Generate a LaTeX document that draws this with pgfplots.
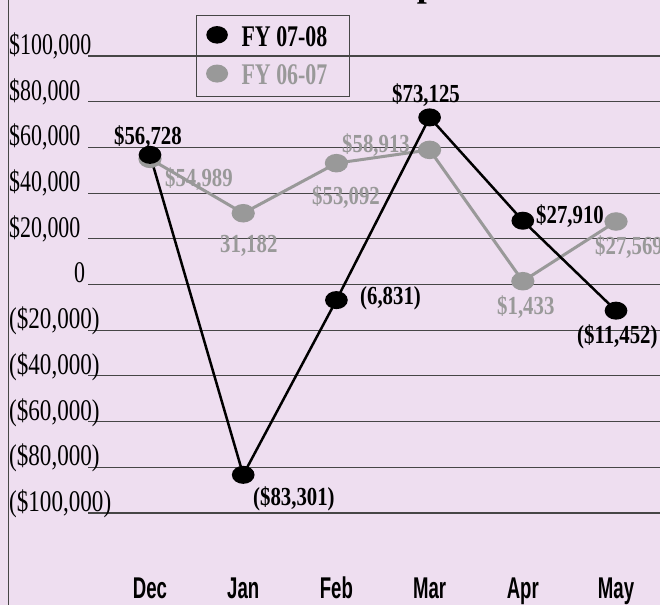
\documentclass[border=0pt]{standalone}
\usepackage{fontspec}
\setmainfont{Liberation Serif}
\newfontfamily\tickfont[FakeStretch=0.73]{Liberation Serif}
\newfontfamily\tickfontn[FakeStretch=0.77]{Liberation Serif}
\newfontfamily\valfont[FakeStretch=0.8]{Liberation Serif}
\newfontfamily\legfont[FakeStretch=0.73]{Liberation Serif}
\newfontfamily\xfont[FakeStretch=0.62]{Liberation Sans}
\usepackage{pgfplots}
\pgfplotsset{compat=1.18}
\definecolor{bg}{RGB}{238,222,240}
\definecolor{sgray}{RGB}{153,153,153}
\definecolor{gridc}{RGB}{70,70,70}

\begin{document}
\begin{tikzpicture}[x=1bp,y=1bp]
\useasboundingbox (0,0) rectangle (660,605);
\clip (0,0) rectangle (660,605);
\fill[bg] (0,0) rectangle (660,605);
\draw[gridc, line width=1.5bp] (8.5,0) -- (8.5,605);
\node[anchor=base, font=\fontsize{36bp}{36bp}\selectfont\bfseries, inner sep=0] at (427,608.5) {p};
\begin{axis}[
  at={(88bp,92bp)}, anchor=south west,
  scale only axis, width=572bp, height=457bp,
  xmin=-0.6652, xmax=5.472, ymin=-100000, ymax=100000,
  axis line style={draw=none}, major tick length=0,
  scaled y ticks=false,
  ytick={-100000,-80000,-60000,-40000,-20000,0,20000,40000,60000,80000,100000},
  yticklabels={{\tickfontn(\$100,000)},{\tickfontn(\$80,000)},{\tickfontn(\$60,000)},{\tickfontn(\$40,000)},{\tickfontn(\$20,000)},{\makebox[76bp][r]{0}},{\$20,000},{\$40,000},{\$60,000},{\$80,000},{\$100,000}},
  yticklabel style={anchor=base west, xshift=-79bp, yshift=1.5bp, inner sep=0, font=\tickfont\fontsize{30bp}{30bp}\selectfont, text=black},
  ymajorgrids, grid style={gridc, line width=1.1bp},
  xtick={0,1,2,3,4,5}, xticklabels={Dec,Jan,Feb,Mar,Apr,May},
  xticklabel style={anchor=base, yshift=-85bp, inner sep=0, font=\xfont\bfseries\fontsize{30bp}{30bp}\selectfont},
  clip=false,
  reverse legend,
  legend image code/.code={\fill[#1] (0bp,2bp) ellipse [x radius=9.5bp, y radius=7.5bp];},
  legend style={at={(axis description cs:0.1888,1.0897)}, anchor=north west,
    draw=gridc, line width=1.2bp, fill=none, inner xsep=9.5bp, inner ysep=10.5bp,
    row sep=17bp, nodes={inner sep=0},
    font=\legfont\bfseries\fontsize{30bp}{30bp}\selectfont,
    /tikz/every odd column/.append style={column sep=13.5bp}},
  legend cell align=left,
]
\addplot[sgray, line width=3bp, mark=*, mark size=7.75bp, mark options={xscale=1.3}]
  coordinates {(0,54989) (1,31182) (2,53092) (3,58913) (4,1433) (5,27569)};
\addlegendentry[text=sgray]{\makebox[98.5bp][l]{FY 06-07}}
\addplot[black, line width=2.5bp, mark=*, mark size=7.75bp, mark options={xscale=1.3}]
  coordinates {(0,56728) (1,-83301) (2,-6831) (3,73125) (4,27910) (5,-11452)};
\addlegendentry{\makebox[98.5bp][l]{FY 07-08}}

\begin{scope}[every node/.style={anchor=base west, inner sep=0, font=\valfont\bfseries\fontsize{26bp}{26bp}\selectfont}]
\node[text=black] at (axis cs:-0.3863,61051) {\$56,728};
\node[text=black] at (axis cs:1.1052,-96937) {(\$83,301)};
\node[text=black] at (axis cs:2.2532,-8972) {(6,831)};
\node[text=black] at (axis cs:2.5966,79432) {\$73,125};
\node[text=black] at (axis cs:4.1416,26477) {\$27,910};
\node[text=black] at (axis cs:4.5815,-26040) {(\$11,452)};
\node[text=sgray] at (axis cs:0.1609,42670) {\$54,989};
\node[text=sgray] at (axis cs:0.7511,13786) {31,182};
\node[text=sgray] at (axis cs:1.7382,34792) {\$53,092};
\node[text=sgray] at (axis cs:2.0601,57550) {\$58,913};
\node[text=sgray] at (axis cs:3.7232,-13348) {\$1,433};
\node[text=sgray] at (axis cs:4.7747,12910) {\$27,569};
\end{scope}
\end{axis}
\end{tikzpicture}
\end{document}
